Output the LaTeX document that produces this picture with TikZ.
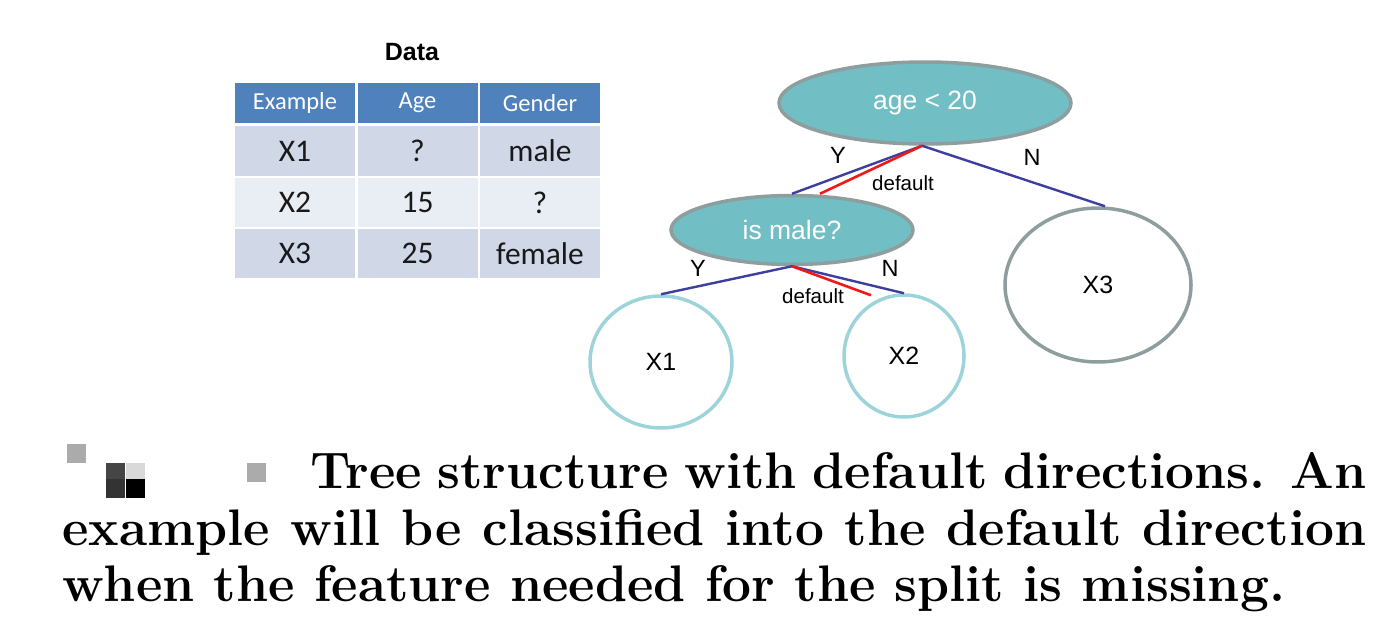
\documentclass[tikz,border=0pt]{standalone}
\usepackage{fontspec}
\newfontfamily\arial{Liberation Sans}
\newfontfamily\calibri{Carlito}
\usetikzlibrary{shapes.geometric,calc}
\definecolor{hdr}{HTML}{4F81BD}
\definecolor{rowa}{HTML}{D0D8E8}
\definecolor{rowb}{HTML}{E9EDF4}
\definecolor{tealfill}{HTML}{72BEC5}
\definecolor{tealborder}{HTML}{8E9E9E}
\definecolor{leafborder}{HTML}{9DD4DA}
\definecolor{edgeblue}{HTML}{3E3E9E}
\definecolor{edgered}{HTML}{F01818}
\tikzset{
  cell/.style={inner sep=0, minimum width=120pt, font=\calibri\fontsize{31.5}{34}\selectfont, text=black!90},
  hcell/.style={cell, fill=hdr, minimum height=40pt, text=white, font=\calibri\fontsize{24.5}{27}\selectfont},
  splitnode/.style={ellipse, draw=tealborder, line width=3.5pt, fill=tealfill, inner sep=0, text=white, font=\arial\fontsize{26.5}{28}\selectfont},
  leaf/.style={ellipse, draw=leafborder, line width=3.5pt, inner sep=0, font=\arial\fontsize{25}{27}\selectfont},
  edge/.style={draw=edgeblue, line width=2.4pt},
  defedge/.style={draw=edgered, line width=2.6pt},
  elabel/.style={font=\arial\fontsize{23.5}{25}\selectfont, inner sep=0},
  dlabel/.style={font=\arial\fontsize{20.5}{22}\selectfont, inner sep=0},
  capline/.style={anchor=base west, inner sep=0, font=\fontsize{51.4}{57}\bfseries\selectfont},
  px/.style={inner sep=0, minimum size=19pt}
}
\begin{document}
\begin{tikzpicture}[x=1pt,y=-1pt]
\useasboundingbox (0,0) rectangle (1384,618);
% Title
\node[font=\arial\bfseries\fontsize{25}{27}\selectfont] (title) at (412,52) {Data};
% Table header
\node[hcell] (h1) at (295,103) {Example};
\node[hcell] (h2) at (417.5,103) {Age};
\node[hcell] (h3) at (540,103) {Gender};
% rows
\node[cell, fill=rowa, minimum height=50pt] (r1c1) at (295,151) {X1};
\node[cell, fill=rowa, minimum height=50pt] (r1c2) at (417.5,151) {?};
\node[cell, fill=rowa, minimum height=50pt] (r1c3) at (540,151) {male};
\node[cell, fill=rowb, minimum height=49pt] (r2c1) at (295,202.5) {X2};
\node[cell, fill=rowb, minimum height=49pt] (r2c2) at (417.5,202.5) {15};
\node[cell, fill=rowb, minimum height=49pt] (r2c3) at (540,202.5) {?};
\node[cell, fill=rowa, minimum height=49pt] (r3c1) at (295,253.5) {X3};
\node[cell, fill=rowa, minimum height=49pt] (r3c2) at (417.5,253.5) {25};
\node[cell, fill=rowa, minimum height=49pt] (r3c3) at (540,253.5) {female};
% Tree nodes
\node[splitnode, minimum width=292pt, minimum height=82pt] (root) at (925,103) {age < 20};
\node[splitnode, minimum width=242pt, minimum height=69pt] (male) at (792,230) {is male?};
\node[leaf, draw=tealborder, minimum width=186pt, minimum height=154pt] (x3) at (1098,285) {X3};
\node[leaf, minimum width=142pt, minimum height=132pt] (x1) at (661,362) {X1};
\node[leaf, minimum width=120pt, minimum height=122pt] (x2) at (904,356) {X2};
% anchor helpers
\coordinate (rootb) at ($(root.south)+(-3,0)$);
\coordinate (maletopd) at ($(male.north)+(28,0)$);
\coordinate (x2d) at ($(x2.north)+(-33,2)$);
% edges
\draw[edge] (rootb) -- (male.north);
\draw[edge] (rootb) -- ($(x3.north)+(7,0)$);
\draw[defedge] (rootb) -- (maletopd);
\draw[edge] (male.south) -- (x1.north);
\draw[edge] (male.south) -- (x2.north);
\draw[defedge] (male.south) -- (x2d);
% labels
\node[elabel] (ly1) at (838,155) {Y};
\node[elabel] (ln1) at (1032,157) {N};
\node[dlabel] (ld1) at (903,183) {default};
\node[elabel] (ly2) at (698,268) {Y};
\node[elabel] (ln2) at (890,268) {N};
\node[dlabel] (ld2) at (813,296) {default};
% artifact squares
\node[px, fill=black!33] (p1) at (76,453) {};
\node[px, fill=black!73] (p2) at (115,472) {};
\node[px, fill=black!15] (p3) at (135,472) {};
\node[px, fill=black!80] (p4) at (115,488) {};
\node[px, fill=black] (p5) at (135,488) {};
\node[px, fill=black!33] (p6) at (256,472) {};
% caption
\node[capline] (c1) at (310,488) {\makebox[1056pt][s]{Tree structure with default directions. An}};
\node[capline] (c2) at (62,545) {\makebox[1304pt][s]{example will be classified into the default direction}};
\node[capline] (c3) at (62,601) {when the feature needed for the split is missing.};
\end{tikzpicture}
\end{document}
